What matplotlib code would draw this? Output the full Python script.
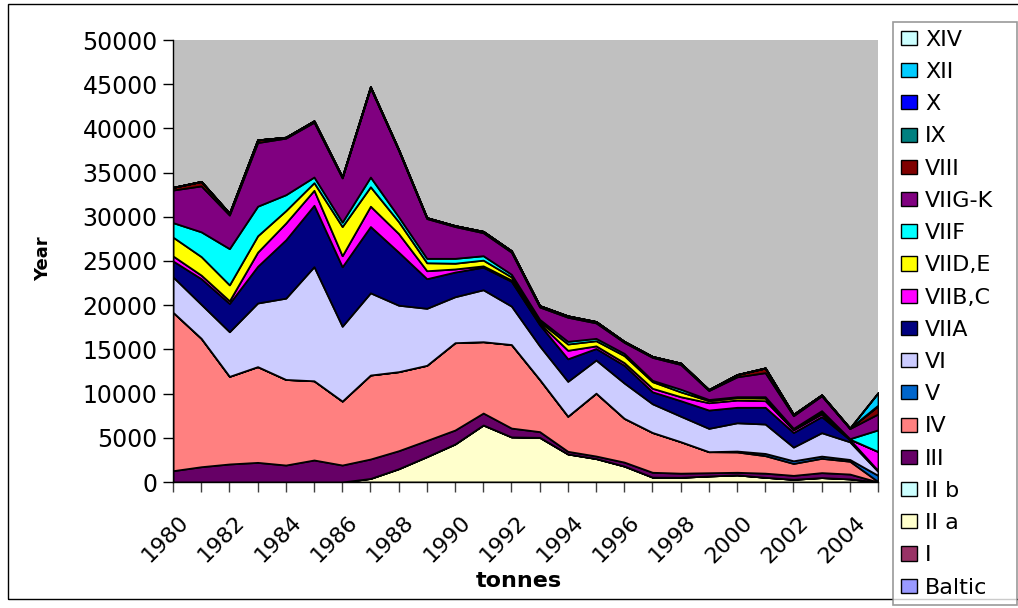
import matplotlib
matplotlib.use("Agg")
import matplotlib.pyplot as plt
from matplotlib.patches import Patch, Rectangle
from matplotlib.transforms import ScaledTranslation

plt.rcParams['font.family'] = ['DejaVu Sans']

years = list(range(1980, 2006))
tick_labels = [str(y) if y % 2 == 0 else '' for y in years]

# Landings by area, tonnes (stacked bottom to top)
baltic = [0] * 26
area_i = [0] * 26
area_iia = [0, 0, 0, 0, 0, 0, 0, 400, 1500, 2870, 4300, 6450, 5100, 5050, 3170, 2650,
            1800, 550, 530, 680, 800, 530, 300, 500, 350, 0]
area_iib = [0] * 26
area_iii = [1280, 1730, 2040, 2220, 1920, 2490, 1920, 2200, 2040, 1830, 1580, 1350, 1000,
            650, 300, 290, 450, 550, 470, 370, 300, 470, 450, 560, 550, 0]
area_iv = [17920, 14520, 9910, 10830, 9680, 8960, 7230, 9500, 8940, 8500, 9880, 8070, 9450,
           5900, 3970, 7110, 4950, 4500, 3560, 2380, 2300, 1980, 1350, 1620, 1450, 50]
area_v = [0] * 20 + [100, 250, 300, 250, 200, 700]
area_vi = [4000, 3850, 5050, 7200, 9200, 12910, 8470, 9300, 7520, 6450, 5200, 5880, 4350,
           3800, 3950, 3750, 4000, 3250, 2890, 2640, 3200, 3330, 1550, 2650, 2000, 450]
area_viia = [1800, 2900, 3200, 4150, 6600, 6940, 6730, 7500, 6000, 3350, 2790, 2550, 2800,
             2400, 2550, 1300, 2000, 1350, 1750, 2070, 1750, 1890, 1650, 1820, 250, 100]
area_viibc = [570, 400, 300, 1600, 1900, 1700, 1250, 2300, 2100, 900, 350, 150, 150,
              150, 960, 300, 300, 400, 450, 830, 820, 750, 300, 300, 50, 2150]
area_viide = [2130, 2100, 1800, 1850, 1400, 860, 3300, 2200, 1350, 900, 650, 650, 350,
              200, 710, 580, 800, 750, 550, 230, 270, 300, 50, 220, 0, 0]
area_viif = [1640, 2800, 4100, 3350, 1800, 640, 500, 1100, 550, 500, 550, 500, 300,
             250, 300, 270, 250, 150, 300, 130, 110, 150, 120, 150, 50, 2450]
area_viigk = [3690, 5200, 3800, 7200, 6400, 6200, 5000, 10100, 7500, 4500, 3600, 2600, 2500,
              1400, 2730, 1750, 1250, 2600, 2800, 1020, 2250, 2720, 1430, 1680, 1150, 1800]
area_viii = [300, 500, 200, 300, 100, 150, 100, 100, 100, 100, 100, 150, 150,
             150, 150, 150, 100, 100, 150, 100, 250, 530, 150, 100, 50, 900]
area_ix = [0] * 25 + [50]
area_x = [0] * 25 + [50]
area_xii = [0] * 25 + [1400]
area_xiv = [0] * 26

series_names = ['Baltic', 'I', 'II a', 'II b', 'III', 'IV', 'V', 'VI', 'VIIA', 'VIIB,C',
                'VIID,E', 'VIIF', 'VIIG-K', 'VIII', 'IX', 'X', 'XII', 'XIV']
series_values = [baltic, area_i, area_iia, area_iib, area_iii, area_iv, area_v, area_vi,
                 area_viia, area_viibc, area_viide, area_viif, area_viigk, area_viii,
                 area_ix, area_x, area_xii, area_xiv]
series_colors = ['#9999FF', '#993366', '#FFFFCC', '#CCFFFF', '#660066', '#FF8080',
                 '#0066CC', '#CCCCFF', '#000080', '#FF00FF', '#FFFF00', '#00FFFF',
                 '#800080', '#800000', '#008080', '#0000FF', '#00CCFF', '#CCFFFF']

W, H = 1018, 608
fig = plt.figure(figsize=(W / 100, H / 100), dpi=100)
fig.patch.set_facecolor('white')

# outer chart border
fig.patches.append(Rectangle((8 / W, 1 - 599 / H), 1.2, (599 - 4) / H,
                             transform=fig.transFigure, fill=False,
                             edgecolor='black', linewidth=1.0, zorder=0))

ax = fig.add_axes([173 / W, 1 - 482 / H, (878 - 173) / W, (482 - 40) / H])
ax.set_facecolor('#C0C0C0')

ax.stackplot(years, *series_values, colors=series_colors, labels=series_names,
             edgecolor='black', linewidth=1.3)

ax.set_xlim(1980, 2005)
ax.set_ylim(0, 50000)
ax.set_yticks(range(0, 50001, 5000))
ax.set_yticklabels([str(v) for v in range(0, 50001, 5000)], fontsize=17)
ax.set_xticks(years)
ax.set_xticklabels(tick_labels, fontsize=16, rotation=45, ha='right', va='center',
                   rotation_mode='anchor')
ax.tick_params(axis='x', direction='out', length=7, width=1, color='#404040', pad=14)
ax.tick_params(axis='y', direction='out', length=7, width=1, color='black', pad=4)
shift = ScaledTranslation(12 / 100, -8 / 100, fig.dpi_scale_trans)
for lbl in ax.get_xticklabels():
    lbl.set_transform(lbl.get_transform() + shift)

for side in ('top', 'right'):
    ax.spines[side].set_visible(False)
for side in ('left', 'bottom'):
    ax.spines[side].set_color('black')
    ax.spines[side].set_linewidth(1.0)

fig.text(43 / W, 1 - 259 / H, 'Year', rotation=90, fontsize=13, fontweight='bold',
         ha='center', va='center')
fig.text(519 / W, 1 - 581 / H, 'tonnes', fontsize=16, fontweight='bold',
         ha='center', va='center')

handles = [Patch(facecolor=c, edgecolor='black', linewidth=1.0, label=n)
           for n, c in zip(series_names, series_colors)][::-1]
leg = fig.legend(handles=handles, loc='upper left',
                 bbox_to_anchor=(893 / W, 1 - 22 / H - 0.01, (1017 - 893) / W, 0.01),
                 mode='expand', borderaxespad=0, fontsize=16, frameon=True,
                 fancybox=False, labelspacing=0.55, handlelength=0.75,
                 handleheight=0.6, handletextpad=0.35, borderpad=0.35,
                 edgecolor='#808080')
leg.get_frame().set_linewidth(1.2)

fig.savefig('out.png', dpi=100)
